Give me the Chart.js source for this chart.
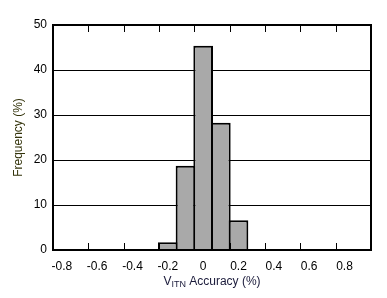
<!DOCTYPE html>
<html>
<head>
    <title>VITN Accuracy Histogram</title>
    <style>
        body { margin: 0; background: #fff; }
        #wrap { width: 387px; height: 298px; }
    </style>
    <script src="https://cdn.jsdelivr.net/npm/chart.js"></script>
</head>
<body>
<div id="wrap"><canvas id="hist" width="387" height="298"></canvas></div>
<script>
// bin centres (%), one category per 0.1 % bin
const categories = ['-0.8', '-0.7', '-0.6', '-0.5', '-0.4', '-0.3', '-0.2', '-0.1', '0',
                    '0.1', '0.2', '0.3', '0.4', '0.5', '0.6', '0.7', '0.8', '0.9'];
// frequency per bin (%)
const frequency = [0, 0, 0, 0, 0, 0, 1.7, 18.7, 45.4, 28.3, 6.6, 0, 0, 0, 0, 0, 0, 0];
const yMin = 0, yMax = 50, yStep = 10;

const FONT = "'Liberation Sans', Arial, sans-serif";

// frame + inward tick marks + subscripted x title
const framePlugin = {
    id: 'frame',
    afterDatasetsDraw(chart) {
        const { ctx, chartArea: a, scales: { x } } = chart;
        ctx.save();
        ctx.strokeStyle = '#000';
        ctx.lineWidth = 1;
        for (let i = 1; i < categories.length - 1; i += 2) {
            const px = Math.round((x.getPixelForValue(i) + x.getPixelForValue(i + 1)) / 2) + 0.5;
            ctx.beginPath();
            ctx.moveTo(px, a.bottom); ctx.lineTo(px, a.bottom - 7);
            ctx.moveTo(px, a.top); ctx.lineTo(px, a.top + 7);
            ctx.stroke();
        }
        ctx.lineWidth = 2;
        ctx.strokeRect(a.left, a.top, a.right - a.left, a.bottom - a.top);

        // x title: V<sub>ITN</sub> Accuracy (%)
        const parts = [['V', 12, 0], ['ITN', 9, 3], [' Accuracy (%)', 12, 0]];
        let w = 0;
        parts.forEach(p => { ctx.font = p[1] + 'px ' + FONT; w += ctx.measureText(p[0]).width; });
        let cx = (a.left + a.right) / 2 - w / 2;
        ctx.fillStyle = '#1a1a3a';
        ctx.textBaseline = 'middle';
        ctx.textAlign = 'left';
        parts.forEach(p => {
            ctx.font = p[1] + 'px ' + FONT;
            ctx.fillText(p[0], cx, 282 + p[2]);
            cx += ctx.measureText(p[0]).width;
        });
        ctx.restore();
    }
};

new Chart(document.getElementById('hist').getContext('2d'), {
    type: 'bar',
    data: {
        labels: categories,
        datasets: [{
            data: frequency,
            backgroundColor: '#a9a9a9',
            borderColor: '#000',
            borderWidth: 2,
            // widen each bar by one border so neighbouring outlines overlap into a single line
            barPercentage: 1.114,
            categoryPercentage: 1
        }]
    },
    options: {
        responsive: false,
        animation: false,
        layout: { padding: { left: 0, right: 16, top: 25, bottom: 0 } },
        plugins: { legend: { display: false }, tooltip: { enabled: false } },
        scales: {
            x: {
                grid: { display: false, drawTicks: false },
                border: { display: false },
                ticks: {
                    autoSkip: false, maxRotation: 0, padding: 9,
                    color: '#000', font: { family: FONT, size: 12 },
                    callback: (v, i) => (i % 2 === 0 && i < categories.length - 1) ? categories[i] : ''
                },
                afterFit: s => { s.height = 48; }
            },
            y: {
                min: yMin, max: yMax,
                grid: { color: '#000', lineWidth: 1, drawTicks: false },
                border: { display: false },
                ticks: { stepSize: yStep, padding: 6, color: '#000', font: { family: FONT, size: 12 } },
                title: {
                    display: true, text: 'Frequency (%)', color: '#33330a',
                    font: { family: FONT, size: 12 }, padding: { top: 11, bottom: 0 }
                },
                afterFit: s => { s.width = 53; }
            }
        }
    },
    plugins: [framePlugin]
});
</script>
</body>
</html>
